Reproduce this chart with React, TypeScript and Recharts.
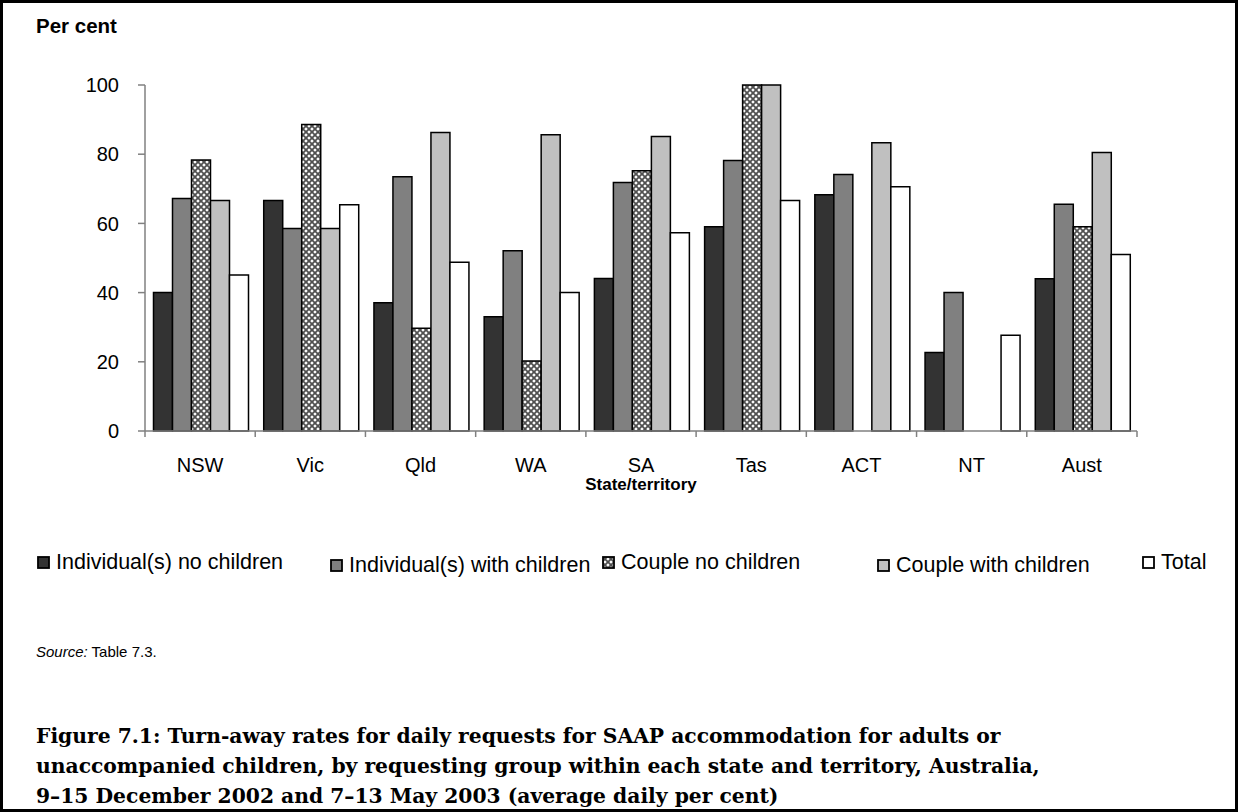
import { BarChart, Bar, XAxis, YAxis, Label } from 'recharts';

const STATES = ['NSW', 'Vic', 'Qld', 'WA', 'SA', 'Tas', 'ACT', 'NT', 'Aust'];
const INDIV_NO_CHILDREN = [40, 66.6, 37.1, 33, 44.1, 59, 68.3, 22.7, 44];
const INDIV_WITH_CHILDREN = [67.2, 58.5, 73.5, 52.1, 71.8, 78.2, 74.1, 40, 65.5];
const COUPLE_NO_CHILDREN = [78.3, 88.6, 29.7, 20.2, 75.2, 100, null, null, 59];
const COUPLE_WITH_CHILDREN = [66.6, 58.5, 86.3, 85.6, 85.1, 100, 83.3, null, 80.5];
const TOTAL = [45.1, 65.4, 48.8, 40, 57.3, 66.6, 70.6, 27.7, 51];
const Y_TICKS = [0, 20, 40, 60, 80, 100];

const SERIES = [
  { key: 'indivNo', name: 'Individual(s) no children', fill: '#333333' },
  { key: 'indivWith', name: 'Individual(s) with children', fill: '#808080' },
  { key: 'coupleNo', name: 'Couple no children', fill: 'url(#hatch)' },
  { key: 'coupleWith', name: 'Couple with children', fill: '#c0c0c0' },
  { key: 'total', name: 'Total', fill: '#ffffff' },
];

const data = STATES.map((state, i) => ({
  state,
  indivNo: INDIV_NO_CHILDREN[i],
  indivWith: INDIV_WITH_CHILDREN[i],
  coupleNo: COUPLE_NO_CHILDREN[i],
  coupleWith: COUPLE_WITH_CHILDREN[i],
  total: TOTAL[i],
}));

const CHART_W = 1238;
const CHART_H = 520;
const MARGIN = { top: 85, right: 101, left: 85, bottom: 29 };
const Y_AXIS_W = 60;
const PLOT_W = CHART_W - MARGIN.left - MARGIN.right - Y_AXIS_W;
const HALF_BAND = PLOT_W / STATES.length / 2;
const TICK_GAP = 27;

const FONT = 'Arial, "Liberation Sans", sans-serif';

// category label plus tick marks on the category boundaries
function StateTick(props: any) {
  const { x, y, payload, index } = props;
  const axisY = y - TICK_GAP;
  return (
    <g>
      <line x1={x - HALF_BAND} x2={x - HALF_BAND} y1={axisY} y2={axisY + 6} stroke="#808080" strokeWidth={1.5} />
      {index === STATES.length - 1 && (
        <line x1={x + HALF_BAND} x2={x + HALF_BAND} y1={axisY} y2={axisY + 6} stroke="#808080" strokeWidth={1.5} />
      )}
      <text x={x} y={y} dy="0.71em" textAnchor="middle" fill="#000" fontSize={20} fontFamily={FONT}>
        {payload.value}
      </text>
    </g>
  );
}

const LEGEND_POS = [
  { left: 37, top: 563 },
  { left: 330, top: 566 },
  { left: 602, top: 563 },
  { left: 877, top: 566 },
  { left: 1142, top: 563 },
];

function Swatch({ fill }: { fill: string }) {
  return (
    <svg width={13} height={13} style={{ display: 'block' }}>
      <rect x={1} y={1} width={11} height={11} fill={fill} stroke="#000" strokeWidth={1.8} />
    </svg>
  );
}

export default function App() {
  return (
    <div style={{ position: 'absolute', left: 0, top: 0, width: 1238, height: 812, background: '#fff', fontFamily: FONT }}>
      <svg width={0} height={0} style={{ position: 'absolute' }}>
        <defs>
          <pattern id="hatch" width={6} height={6} patternUnits="userSpaceOnUse">
            <rect width={6} height={6} fill="#ffffff" />
            <path d="M0,0 L6,6 M6,0 L0,6" stroke="#505050" strokeWidth={1.8} />
          </pattern>
        </defs>
      </svg>

      <div style={{ position: 'absolute', left: 36, top: 14, fontSize: 20.5, fontWeight: 'bold' }}>Per cent</div>

      <div style={{ position: 'absolute', left: 0, top: 0 }}>
        <BarChart width={CHART_W} height={CHART_H} data={data} margin={MARGIN} barCategoryGap={8.5} barGap={0}>
          <XAxis
            dataKey="state"
            height={60}
            axisLine={{ stroke: '#808080', strokeWidth: 1.5 }}
            tickLine={false}
            tickSize={0}
            tickMargin={TICK_GAP}
            tick={<StateTick />}
            interval={0}
          >
            <Label
              value="State/territory"
              position="insideBottom"
              offset={1}
              style={{ fontSize: 17, fontWeight: 'bold', fill: '#000', fontFamily: FONT }}
            />
          </XAxis>
          <YAxis
            width={Y_AXIS_W}
            domain={[0, 100]}
            ticks={Y_TICKS}
            interval={0}
            axisLine={{ stroke: '#808080', strokeWidth: 1.5 }}
            tickLine={{ stroke: '#808080', strokeWidth: 1.5 }}
            tickSize={7}
            tickMargin={19}
            tick={{ fontSize: 20, fill: '#000', fontFamily: FONT }}
          />
          {SERIES.map(s => (
            <Bar
              key={s.key}
              dataKey={s.key}
              name={s.name}
              fill={s.fill}
              stroke="#000"
              strokeWidth={1.5}
              isAnimationActive={false}
            />
          ))}
        </BarChart>
      </div>

      {SERIES.map((s, i) => (
        <div
          key={s.key}
          style={{
            position: 'absolute',
            left: LEGEND_POS[i].left,
            top: LEGEND_POS[i].top - 13,
            display: 'flex',
            alignItems: 'center',
            gap: 6,
            fontSize: 21.5,
            whiteSpace: 'nowrap',
          }}
        >
          <Swatch fill={s.fill} />
          <span>{s.name}</span>
        </div>
      ))}

      <div style={{ position: 'absolute', left: 36, top: 643, fontSize: 15 }}>
        <i>Source:</i> Table 7.3.
      </div>

      <div
        style={{
          position: 'absolute',
          left: 36,
          top: 721,
          fontFamily: '"DejaVu Serif", serif',
          fontWeight: 'bold',
          fontSize: 20.3,
          lineHeight: '30px',
          whiteSpace: 'nowrap',
        }}
      >
        Figure 7.1: Turn-away rates for daily requests for SAAP accommodation for adults or
        <br />
        unaccompanied children, by requesting group within each state and territory, Australia,
        <br />
        9–15 December 2002 and 7–13 May 2003 (average daily per cent)
      </div>

      <div style={{ position: 'absolute', left: 0, top: 0, width: 1238, height: 812, boxSizing: 'border-box', border: '3px solid #000', pointerEvents: 'none' }} />
    </div>
  );
}
